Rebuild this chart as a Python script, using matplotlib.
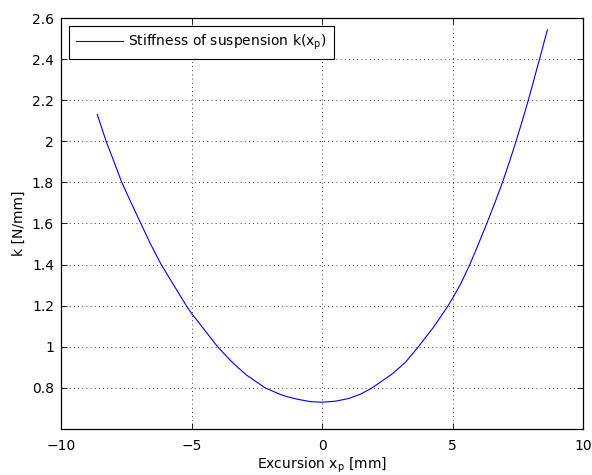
import matplotlib
matplotlib.use("Agg")
import matplotlib.pyplot as plt

# values
excursion = [-8.61, -8.27, -7.97, -7.67, -7.31, -6.94, -6.57, -6.16, -5.68, -5.20,
             -5.0, -4.62, -4.0, -3.52, -3.19, -2.88, -2.18, -1.60, -1.34, -0.96,
             -0.45, 0.0, 0.51, 1.02, 1.47, 1.92, 2.69, 3.20, 3.69, 4.30,
             4.83, 5.0, 5.29, 5.66, 5.99, 6.31, 6.62, 6.91, 7.18, 7.43,
             7.67, 7.90, 8.12, 8.33, 8.63]
stiffness = [2.131, 2.0, 1.901, 1.8, 1.7, 1.6, 1.5, 1.4, 1.3, 1.2,
             1.163, 1.101, 1.0, 0.935, 0.895, 0.861, 0.8, 0.768, 0.757, 0.745,
             0.733, 0.730, 0.735, 0.748, 0.769, 0.8, 0.868, 0.925, 1.0, 1.1,
             1.2, 1.236, 1.301, 1.4, 1.5, 1.6, 1.701, 1.8, 1.901, 2.0,
             2.1, 2.2, 2.302, 2.4, 2.542]

xticks = [-10, -5, 0, 5, 10]
yticks = [0.8, 1.0, 1.2, 1.4, 1.6, 1.8, 2.0, 2.2, 2.4, 2.6]
ytick_labels = ['0.8', '1', '1.2', '1.4', '1.6', '1.8', '2', '2.2', '2.4', '2.6']

plt.rcParams['font.family'] = ['DejaVu Sans']
plt.rcParams['font.size'] = 10
plt.rcParams['mathtext.default'] = 'regular'

fig = plt.figure(figsize=(5.92, 4.75), dpi=100)
ax = fig.add_axes([0.103, 0.097, 0.882, 0.865])

ax.plot(excursion, stiffness, color='#0000ff', linewidth=0.8,
        label='Stiffness of suspension k(x$_{p}$)')

ax.set_xlim(-10, 10)
ax.set_ylim(0.6, 2.6)
ax.set_xticks(xticks)
ax.set_yticks(yticks)
ax.set_yticklabels(ytick_labels)

ax.grid(True, color='black', linestyle=(0, (1, 4)), linewidth=0.6)
ax.tick_params(direction='in', top=True, right=True, length=4, width=0.6)
ax.tick_params(axis='x', pad=7)
ax.tick_params(axis='y', pad=5)
for s in ax.spines.values():
    s.set_linewidth(0.9)

ax.set_xlabel('Excursion x$_{p}$ [mm]', labelpad=2)
ax.set_ylabel('k [N/mm]', labelpad=4)

leg = ax.legend(loc='upper left', fancybox=False, framealpha=1, edgecolor='black',
                handlelength=3.4, handletextpad=0.4, borderaxespad=0.55,
                borderpad=0.5)
leg.get_frame().set_linewidth(0.8)

fig.savefig('out.png', dpi=100)
